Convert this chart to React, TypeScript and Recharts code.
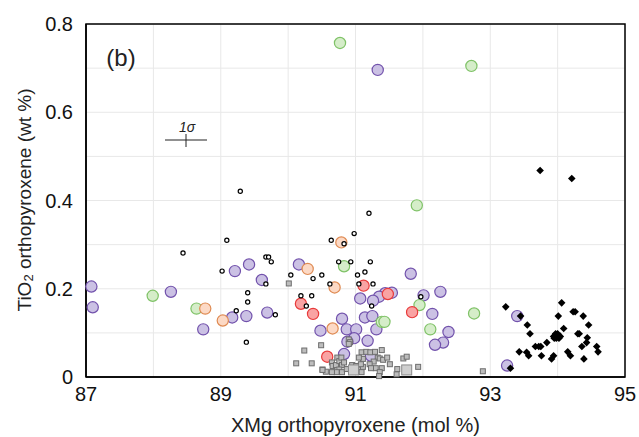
import {
  ScatterChart, Scatter, XAxis, YAxis, CartesianGrid, ReferenceArea
} from 'recharts';

// XMg (mol %) and TiO2 (wt %)
const purplePts = [
  [87.08, 0.205], [87.10, 0.158], [88.26, 0.193], [88.74, 0.108], [89.21, 0.240],
  [89.42, 0.255], [89.61, 0.220], [89.17, 0.135], [89.38, 0.138], [89.69, 0.146],
  [90.16, 0.255], [91.33, 0.696], [91.82, 0.234], [92.26, 0.193], [92.01, 0.185],
  [91.54, 0.191], [91.44, 0.190], [91.35, 0.182], [91.26, 0.173], [91.07, 0.178],
  [92.14, 0.143], [92.38, 0.102], [92.30, 0.078], [92.18, 0.073], [90.80, 0.132],
  [91.14, 0.135], [91.25, 0.138], [91.31, 0.108], [90.48, 0.105], [90.87, 0.108],
  [91.01, 0.108], [90.98, 0.088], [90.88, 0.080], [91.18, 0.082], [90.83, 0.052],
  [91.23, 0.048], [93.40, 0.138], [93.25, 0.026],
];

const greenPts = [
  [90.77, 0.757], [92.72, 0.705], [91.91, 0.389], [87.99, 0.184], [88.64, 0.155],
  [90.83, 0.251], [91.95, 0.163], [92.11, 0.108], [92.76, 0.144], [91.39, 0.125],
  [91.43, 0.125],
];

const orangePts = [
  [88.77, 0.155], [89.03, 0.128], [90.79, 0.305], [90.29, 0.245], [90.69, 0.203],
  [90.66, 0.110],
];

const redPts = [
  [91.12, 0.207], [91.48, 0.188], [90.19, 0.166], [90.37, 0.143], [91.84, 0.147],
  [90.58, 0.046],
];

const openPts = [
  [89.29, 0.421], [89.09, 0.310], [88.44, 0.281], [89.02, 0.240], [89.67, 0.272],
  [89.71, 0.272], [89.75, 0.261], [89.67, 0.211], [89.40, 0.191], [89.40, 0.170],
  [89.23, 0.150], [89.81, 0.141], [89.38, 0.079], [91.20, 0.371], [90.98, 0.325],
  [90.64, 0.310], [90.83, 0.302], [90.75, 0.261], [90.93, 0.261], [91.22, 0.261],
  [90.04, 0.231], [90.37, 0.223], [90.50, 0.231], [91.03, 0.231], [91.14, 0.238],
  [90.62, 0.211], [91.05, 0.211], [91.26, 0.211], [90.19, 0.184], [90.35, 0.184],
  [90.27, 0.161], [91.24, 0.161], [91.97, 0.182],
];

const squarePts = [
  [90.01, 0.212], [90.49, 0.072], [90.24, 0.060], [90.12, 0.031], [90.35, 0.031],
  [90.51, 0.017], [90.90, 0.085], [90.92, 0.079], [90.65, 0.033], [90.66, 0.025],
  [90.71, 0.027], [90.73, 0.044], [90.76, 0.036], [90.79, 0.044], [90.80, 0.027],
  [90.83, 0.033], [90.76, 0.017], [90.72, 0.011], [90.65, 0.011], [90.80, 0.011],
  [90.87, 0.018], [90.95, 0.027], [91.01, 0.025], [91.04, 0.017], [91.09, 0.011],
  [91.11, 0.023], [91.09, 0.056], [91.16, 0.057], [91.11, 0.041], [91.08, 0.029],
  [91.05, 0.044], [91.22, 0.056], [91.29, 0.057], [91.39, 0.061], [91.33, 0.044],
  [91.36, 0.042], [91.27, 0.035], [91.21, 0.029], [91.41, 0.039], [91.47, 0.044],
  [91.39, 0.020], [91.30, 0.020], [91.23, 0.020], [91.36, 0.011], [91.35, 0.002],
  [91.51, 0.029], [91.62, 0.018], [91.61, 0.006], [91.71, 0.042], [91.76, 0.046],
  [91.93, 0.023], [92.89, 0.013], [90.56, 0.012], [90.51, 0.016], [90.90, 0.075],
];

const bigSquarePts = [[90.97, 0.016], [91.76, 0.016]];

const diamondPts = [
  [93.74, 0.468], [94.21, 0.450], [93.23, 0.159], [93.45, 0.138], [94.06, 0.168],
  [94.01, 0.138], [94.23, 0.148], [94.26, 0.148], [94.38, 0.138], [94.46, 0.118],
  [93.55, 0.118], [93.59, 0.098], [94.09, 0.110], [93.94, 0.092], [93.97, 0.098],
  [94.00, 0.098], [94.04, 0.092], [93.98, 0.088], [94.02, 0.088], [93.95, 0.088],
  [94.30, 0.098], [94.32, 0.098], [94.44, 0.089], [94.43, 0.078], [94.36, 0.069],
  [94.58, 0.069], [94.60, 0.057], [93.84, 0.078], [93.67, 0.069], [93.72, 0.069],
  [93.75, 0.069], [93.43, 0.057], [93.54, 0.056], [93.57, 0.048], [93.76, 0.048],
  [93.94, 0.048], [93.91, 0.041], [94.15, 0.057], [94.19, 0.048], [94.39, 0.041],
  [93.30, 0.020],
];

const xTicks = [87, 88, 89, 90, 91, 92, 93, 94, 95];
const yTicks = [0, 0.1, 0.2, 0.3, 0.4, 0.5, 0.6, 0.7, 0.8];

const toRows = (pts: number[][]) => pts.map(([x, y]) => ({ x, y }));

const FONT = '"Liberation Sans", Arial, sans-serif';

function circleShape(fill: string, stroke: string, r: number) {
  return (props: any) => (
    <circle cx={props.cx} cy={props.cy} r={r} fill={fill} stroke={stroke} strokeWidth={1.2} />
  );
}

function squareShape(size: number, fill: string, stroke: string) {
  return (props: any) => (
    <rect x={props.cx - size / 2} y={props.cy - size / 2} width={size} height={size}
      fill={fill} stroke={stroke} strokeWidth={1} />
  );
}

const diamondShape = (props: any) => {
  const { cx, cy } = props;
  const h = 3.8;
  return <polygon points={`${cx},${cy - h} ${cx + h},${cy} ${cx},${cy + h} ${cx - h},${cy}`} fill="#000" />;
};

const YTitle = () => (
  <text x={24} y={200} transform="rotate(-90 24 200)" textAnchor="middle" dominantBaseline="central"
    fontSize={19} fill="#222" fontFamily={FONT}>
    TiO<tspan dy={4} fontSize={13}>2</tspan><tspan dy={-4}> orthopyroxene (wt %)</tspan>
  </text>
);

export default function App() {
  return (
    <div style={{ position: 'absolute', left: 0, top: 0, width: 639, height: 437, background: '#fff', fontFamily: FONT }}>
      <ScatterChart width={639} height={437} margin={{ top: 24, right: 14, bottom: 0, left: 0 }}>
        <CartesianGrid stroke="#e8e8e8" />
        <XAxis type="number" dataKey="x" domain={[87, 95]} ticks={xTicks} height={60}
          tickLine={false} tickMargin={4} axisLine={{ stroke: '#000', strokeWidth: 1.5 }}
          tick={{ fill: '#111', fontSize: 20, fontFamily: FONT }}
          tickFormatter={(v: number) => (v % 2 === 1 ? String(v) : '')}
          label={{ value: 'XMg orthopyroxene (mol %)', position: 'insideBottom', offset: 5, fill: '#222', fontSize: 20, fontFamily: FONT }} />
        <YAxis type="number" dataKey="y" domain={[0, 0.8]} ticks={yTicks} width={86}
          tickLine={false} tickMargin={7} axisLine={{ stroke: '#000', strokeWidth: 1.5 }}
          tick={{ fill: '#111', fontSize: 20, fontFamily: FONT }}
          tickFormatter={(v: number) => {
            const k = Math.round(v * 10);
            if (k % 2 !== 0) return '';
            return k === 0 ? '0' : (k / 10).toFixed(1);
          }}
          label={<YTitle />} />
        <ReferenceArea x1={87} x2={95} y1={0} y2={0.8} fill="none" stroke="#000" strokeWidth={1.5} />
        <Scatter data={toRows(purplePts)} shape={circleShape('#cbc1e4', '#7252ac', 5.6)} isAnimationActive={false} />
        <Scatter data={toRows(greenPts)} shape={circleShape('#d5edc9', '#7fc267', 5.6)} isAnimationActive={false} />
        <Scatter data={toRows(orangePts)} shape={circleShape('#fcd9c5', '#df8a52', 5.6)} isAnimationActive={false} />
        <Scatter data={toRows(redPts)} shape={circleShape('#f9a3a3', '#e83a3a', 5.6)} isAnimationActive={false} />
        <Scatter data={toRows(openPts)} shape={circleShape('#fff', '#000', 2.1)} isAnimationActive={false} />
        <Scatter data={toRows(squarePts)} shape={squareShape(5, '#bdbdbd', '#6e6e6e')} isAnimationActive={false} />
        <Scatter data={toRows(bigSquarePts)} shape={squareShape(10, '#cfcfcf', '#8a8a8a')} isAnimationActive={false} />
        <Scatter data={toRows(diamondPts)} shape={diamondShape} isAnimationActive={false} />
      </ScatterChart>
      <svg width={639} height={437} style={{ position: 'absolute', left: 0, top: 0, pointerEvents: 'none' }}>
        <text x={121} y={57} textAnchor="middle" dominantBaseline="central" fontSize={24} fill="#222" fontFamily={FONT}>(b)</text>
        <text x={187} y={127} textAnchor="middle" dominantBaseline="central" fontSize={14} fontStyle="italic" fill="#222" fontFamily={FONT}>1σ</text>
        <line x1={165} x2={207} y1={140} y2={140} stroke="#222" strokeWidth={1} />
        <line x1={186} x2={186} y1={134} y2={147} stroke="#222" strokeWidth={1} />
      </svg>
    </div>
  );
}
